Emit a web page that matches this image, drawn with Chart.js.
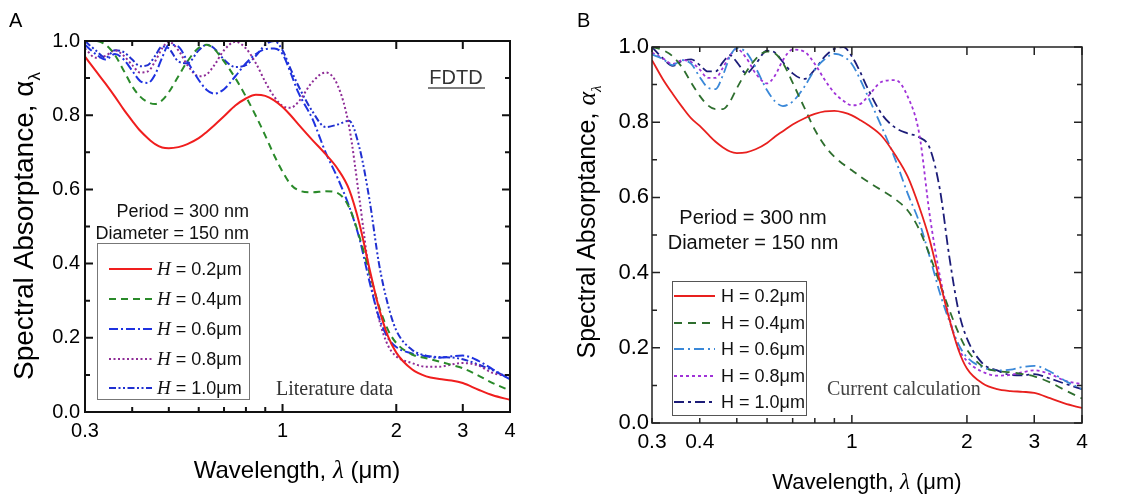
<!DOCTYPE html>
<html>
<head>
<meta charset="utf-8">
<script src="https://cdn.jsdelivr.net/npm/chart.js@4.4.1/dist/chart.umd.min.js"></script>
<style>
  html, body { margin: 0; padding: 0; background: #fff; }
  #wrap { position: relative; width: 1133px; height: 495px; overflow: hidden; }
  canvas { position: absolute; top: 0; }
  #chartA { left: 0; }
  #chartB { left: 566px; }
</style>
</head>
<body>
<div id="wrap">
  <canvas id="chartA" width="566" height="495"></canvas>
  <canvas id="chartB" width="567" height="495"></canvas>
</div>
<script>
// wavelength grid (um), shared by every curve
const wavelength = [0.30, 0.32, 0.34, 0.36, 0.38, 0.40, 0.42, 0.44, 0.46, 0.48, 0.50,
  0.53, 0.56, 0.60, 0.63, 0.66, 0.70, 0.75, 0.80, 0.85, 0.90, 0.95,
  1.00, 1.05, 1.10, 1.20, 1.30, 1.40, 1.50, 1.60, 1.70, 1.80, 1.90, 2.00,
  2.20, 2.40, 2.60, 2.80, 3.00, 3.30, 3.60, 4.00];

const heightLabels = ['0.2', '0.4', '0.6', '0.8', '1.0'];

// panel A - literature data (FDTD)
const litH02 = [.958, .92, .885, .85, .815, .785, .758, .738, .722, .713, .711,
  .714, .722, .738, .755, .773, .797, .826, .845, .855, .852, .84,
  .822, .8, .776, .733, .695, .655, .6, .505, .385, .28, .205, .16,
  .115, .096, .089, .085, .078, .06, .045, .033];
const litH04 = [1.0, 1.0, .99, .962, .92, .878, .85, .835, .83, .84, .862,
  .905, .945, .982, .99, .978, .945, .9, .85, .798, .745, .692,
  .648, .614, .598, .592, .595, .59, .552, .47, .375, .285, .222, .186,
  .155, .145, .136, .127, .118, .098, .078, .058];
const litH06 = [.99, .965, .95, .965, .95, .92, .892, .887, .91, .955, .99,
  .985, .945, .895, .868, .858, .87, .905, .94, .965, .978, .98,
  .965, .915, .862, .79, .7, .63, .555, .465, .35, .255, .2, .175,
  .158, .15, .146, .15, .152, .138, .115, .088];
const litH08 = [.98, .955, .96, .975, .96, .935, .915, .918, .945, .98, .998,
  .975, .935, .905, .91, .935, .975, .998, .98, .94, .89, .85,
  .825, .82, .835, .89, .915, .88, .77, .57, .37, .25, .18, .15,
  .132, .122, .122, .128, .132, .125, .105, .097];
const litH10 = [1.0, .975, .955, .975, .97, .95, .932, .935, .96, .985, .98,
  .945, .94, .975, .99, .98, .95, .93, .935, .96, .99, 1.0,
  .975, .925, .88, .81, .768, .775, .785, .71, .57, .40, .29, .22,
  .168, .152, .148, .147, .142, .128, .112, .09];

// panel B - current calculation
const calcH02 = [.965, .915, .875, .84, .81, .79, .768, .748, .733, .722, .718,
  .72, .728, .745, .762, .776, .794, .81, .822, .829, .83, .826,
  .818, .806, .793, .762, .712, .655, .575, .485, .375, .275, .195, .145,
  .105, .09, .085, .083, .08, .066, .052, .04];
const calcH04 = [1.0, .992, .975, .945, .905, .87, .845, .835, .835, .855, .89,
  .935, .968, .988, .983, .958, .905, .84, .78, .737, .708, .688,
  .672, .656, .642, .618, .595, .565, .515, .445, .37, .30, .24, .195,
  .15, .138, .135, .13, .124, .108, .088, .065];
const calcH06 = [.98, .968, .952, .965, .955, .92, .892, .888, .925, .975, .997,
  .985, .945, .885, .855, .843, .855, .893, .94, .968, .982, .975,
  .955, .915, .87, .785, .70, .61, .535, .44, .345, .27, .21, .175,
  .148, .14, .142, .149, .152, .137, .113, .09];
const calcH08 = [.985, .97, .955, .965, .96, .94, .918, .918, .945, .978, .995,
  .97, .93, .903, .925, .965, .993, .988, .955, .912, .878, .857,
  .845, .848, .868, .908, .912, .868, .77, .55, .39, .28, .20, .165,
  .136, .126, .128, .135, .14, .13, .113, .103];
const calcH10 = [1.0, .97, .95, .963, .967, .952, .935, .935, .96, .978, .96,
  .93, .955, .99, .985, .96, .93, .915, .94, .975, .995, 1.0,
  .975, .935, .89, .82, .785, .77, .76, .73, .62, .44, .30, .225,
  .158, .14, .128, .127, .13, .118, .105, .09];

// axis ticks
const xTickValues = [0.3, 0.4, 0.5, 0.6, 0.7, 0.8, 0.9, 1, 2, 3, 4];
const xMajorValues = [1, 2, 3, 4];
const xLabelsA = ['0.3', '', '', '', '', '', '', '1', '2', '3', '4'];
const xLabelsB = ['0.3', '0.4', '', '', '', '', '', '1', '2', '3', '4'];
const yTickValues = [0, 0.1, 0.2, 0.3, 0.4, 0.5, 0.6, 0.7, 0.8, 0.9, 1.0];
const yLabels = ['0.0', '', '0.2', '', '0.4', '', '0.6', '', '0.8', '', '1.0'];

const SANS = '"Liberation Sans", Arial, sans-serif';
const SERIF = '"Liberation Serif", "Times New Roman", serif';
const B_OFFSET = 566;

// draw a row of text pieces with different fonts
function textRuns(ctx, parts, x, y, align) {
  let w = 0;
  parts.forEach(p => { ctx.font = p[1]; w += ctx.measureText(p[0]).width; });
  let cx = align === 'right' ? x - w : align === 'center' ? x - w / 2 : x;
  ctx.textAlign = 'left';
  ctx.textBaseline = 'alphabetic';
  parts.forEach(p => {
    ctx.font = p[1];
    ctx.fillText(p[0], cx, y + (p[2] || 0));
    cx += ctx.measureText(p[0]).width;
  });
}

function drawFrame(chart, lw, color, major, minor) {
  const { ctx, chartArea: a, scales: { x, y } } = chart;
  ctx.save();
  ctx.strokeStyle = color;
  ctx.lineWidth = lw;
  ctx.setLineDash([]);
  ctx.strokeRect(a.left, a.top, a.right - a.left, a.bottom - a.top);
  ctx.beginPath();
  xTickValues.forEach(v => {
    const px = x.getPixelForValue(v);
    const len = xMajorValues.includes(v) ? major : minor;
    ctx.moveTo(px, a.bottom); ctx.lineTo(px, a.bottom - len);
    ctx.moveTo(px, a.top); ctx.lineTo(px, a.top + len);
  });
  yTickValues.forEach((v, i) => {
    const py = y.getPixelForValue(v);
    const len = i % 2 === 0 ? major : minor;
    ctx.moveTo(a.left, py); ctx.lineTo(a.left + len, py);
    ctx.moveTo(a.right, py); ctx.lineTo(a.right - len, py);
  });
  ctx.stroke();
  ctx.restore();
}

function drawLegend(chart, box, rows, x0, x1, tx, font, italicH, boxColor) {
  const ctx = chart.ctx;
  ctx.save();
  ctx.strokeStyle = boxColor;
  ctx.lineWidth = 1;
  ctx.strokeRect(box[0] + 0.5, box[1] + 0.5, box[2], box[3]);
  chart.data.datasets.forEach((ds, i) => {
    ctx.strokeStyle = ds.borderColor;
    ctx.lineWidth = ds.borderWidth;
    ctx.setLineDash(ds.borderDash || []);
    ctx.beginPath();
    ctx.moveTo(x0, rows[i]); ctx.lineTo(x1, rows[i]);
    ctx.stroke();
    ctx.setLineDash([]);
    ctx.fillStyle = '#111';
    const hFont = italicH ? 'italic ' + (font + 1) + 'px ' + SERIF : font + 'px ' + SANS;
    textRuns(ctx, [['H', hFont], [' = ' + heightLabels[i] + 'μm', font + 'px ' + SANS]],
      tx, rows[i] + font * 0.36, 'left');
  });
  ctx.restore();
}

function drawPanelA(chart) {
  const ctx = chart.ctx;
  drawFrame(chart, 2, '#111', 8, 5);
  ctx.save();
  ctx.fillStyle = '#000';
  textRuns(ctx, [['A', '20px ' + SANS]], 9, 27, 'left');
  // y title with subscript
  ctx.save();
  ctx.translate(33, 226);
  ctx.rotate(-Math.PI / 2);
  textRuns(ctx, [['Spectral Absorptance, α', '28px ' + SANS], ['λ', '17px ' + SANS, 7]], 0, 0, 'center');
  ctx.restore();
  textRuns(ctx, [['Wavelength, ', '24px ' + SANS], ['λ', 'italic 25px ' + SERIF], [' (μm)', '24px ' + SANS]], 297, 478, 'center');
  // annotations
  ctx.fillStyle = '#333';
  textRuns(ctx, [['FDTD', '20px ' + SANS]], 456, 84, 'center');
  ctx.strokeStyle = '#555';
  ctx.lineWidth = 1.5;
  ctx.beginPath(); ctx.moveTo(428, 88); ctx.lineTo(485, 88); ctx.stroke();
  ctx.fillStyle = '#111';
  textRuns(ctx, [['Period = 300 nm', '18px ' + SANS]], 249, 216.5, 'right');
  textRuns(ctx, [['Diameter = 150 nm', '18px ' + SANS]], 249, 238.5, 'right');
  ctx.fillStyle = '#333';
  textRuns(ctx, [['Literature data', '20px ' + SERIF]], 276, 394.5, 'left');
  ctx.restore();
  drawLegend(chart, [97, 243, 152, 156], [269, 299, 329, 359, 388], 109, 152, 157, 18, true, '#777');
}

function drawPanelB(chart) {
  const ctx = chart.ctx;
  drawFrame(chart, 1.5, '#222', 8, 5);
  ctx.save();
  ctx.translate(-B_OFFSET, 0);
  ctx.fillStyle = '#000';
  textRuns(ctx, [['B', '20px ' + SANS]], 577, 27, 'left');
  ctx.save();
  ctx.translate(595, 222);
  ctx.rotate(-Math.PI / 2);
  textRuns(ctx, [['Spectral Absorptance, ', '25px ' + SANS], ['α', 'italic 26px ' + SERIF], ['λ', 'italic 15px ' + SERIF, 6]], 0, 0, 'center');
  ctx.restore();
  textRuns(ctx, [['Wavelength, ', '22px ' + SANS], ['λ', 'italic 23px ' + SERIF], [' (μm)', '22px ' + SANS]], 867, 489, 'center');
  ctx.fillStyle = '#111';
  textRuns(ctx, [['Period = 300 nm', '20px ' + SANS]], 753, 224, 'center');
  textRuns(ctx, [['Diameter = 150 nm', '20px ' + SANS]], 753, 249, 'center');
  ctx.fillStyle = '#444';
  textRuns(ctx, [['Current calculation', '20px ' + SERIF]], 827, 394.5, 'left');
  ctx.restore();
  ctx.save();
  ctx.translate(-B_OFFSET, 0);
  drawLegend(chart, [672, 281, 134, 134], [296, 323, 349, 376, 402], 674, 715, 721, 18, false, '#555');
  ctx.restore();
}

function makeChart(id, cfg) {
  return new Chart(document.getElementById(id), {
    type: 'line',
    data: {
      datasets: cfg.series.map((s, i) => ({
        label: 'H = ' + heightLabels[i] + 'μm',
        data: wavelength.map((w, k) => ({ x: w, y: s[k] })),
        borderColor: cfg.colors[i],
        borderDash: cfg.dashes[i],
        borderWidth: cfg.width,
        pointRadius: 0,
        fill: false,
        cubicInterpolationMode: 'monotone'
      }))
    },
    options: {
      responsive: false,
      animation: false,
      devicePixelRatio: 1,
      layout: { padding: { top: cfg.top, right: cfg.right, left: 0, bottom: 0 } },
      plugins: { legend: { display: false }, tooltip: { enabled: false } },
      scales: {
        x: {
          type: 'logarithmic', min: 0.3, max: 4,
          grid: { display: false, drawTicks: false }, border: { display: false },
          afterBuildTicks: s => { s.ticks = xTickValues.map(v => ({ value: v })); },
          afterFit: s => { s.height = cfg.xAxisHeight; },
          ticks: {
            autoSkip: false, maxRotation: 0, padding: 7, color: '#000',
            font: { family: SANS, size: cfg.xFont },
            callback: (v, i) => cfg.xLabels[i]
          }
        },
        y: {
          min: 0, max: 1,
          grid: { display: false, drawTicks: false }, border: { display: false },
          afterBuildTicks: s => { s.ticks = yTickValues.map(v => ({ value: v })); },
          afterFit: s => { s.width = cfg.yAxisWidth; },
          ticks: {
            autoSkip: false, padding: cfg.yPad, color: '#000',
            font: { family: SANS, size: cfg.yFont },
            callback: (v, i) => yLabels[i]
          }
        }
      }
    },
    plugins: [{ id: 'decor', afterDatasetsDraw: c => cfg.draw(c) }]
  });
}

makeChart('chartA', {
  series: [litH02, litH04, litH06, litH08, litH10],
  colors: ['#f01e1e', '#2a8a2a', '#1e32e0', '#8e2c96', '#2030d0'],
  dashes: [[], [7, 5], [9, 3, 2, 3], [2, 2.5], [7, 2.5, 2, 2.5, 2, 2.5]],
  width: 2,
  top: 41, right: 56, xAxisHeight: 83, yAxisWidth: 85, yPad: 5, xFont: 20, yFont: 20,
  xLabels: xLabelsA,
  draw: drawPanelA
});

makeChart('chartB', {
  series: [calcH02, calcH04, calcH06, calcH08, calcH10],
  colors: ['#e8201e', '#2e6e2e', '#3a88d8', '#a032d8', '#1c1c78'],
  dashes: [[], [8, 6], [10, 4, 2, 4], [3, 3], [10, 4, 3, 4]],
  width: 1.8,
  top: 47, right: 51, xAxisHeight: 72, yAxisWidth: 86, yPad: 3, xFont: 21, yFont: 22,
  xLabels: xLabelsB,
  draw: drawPanelB
});
</script>
</body>
</html>
